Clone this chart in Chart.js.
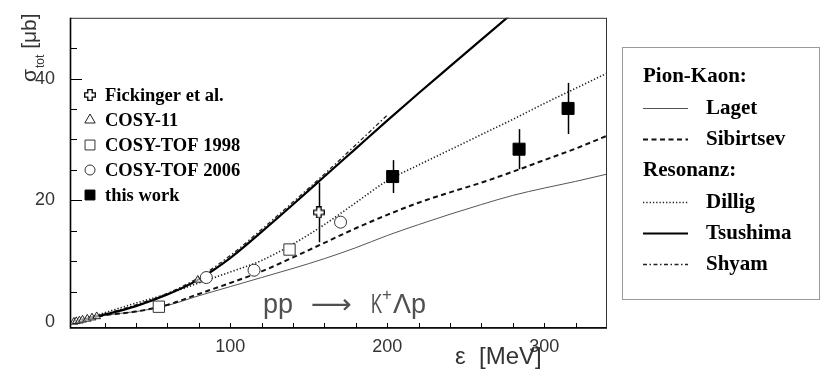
<!DOCTYPE html>
<html>
<head>
<meta charset="utf-8">
<script src="https://cdn.jsdelivr.net/npm/chart.js@4.4.1/dist/chart.umd.min.js"></script>
<style>
  html, body { margin: 0; padding: 0; background: #fff; }
  #wrap { width: 830px; height: 387px; }
</style>
</head>
<body>
<div id="wrap"><canvas id="chart" width="830" height="387"></canvas></div>
<script>
// theory curves: epsilon [MeV] -> sigma_tot [mub]
const curveX     = [0, 10, 20, 40, 60, 80, 100, 120, 140, 160, 180, 200, 220, 240, 260, 280, 300, 320, 340];
const lagetY     = [0, 0.6, 1.1, 1.7, 2.7, 4.3, 5.8, 7.3, 8.8, 10.4, 12.2, 14.2, 16.0, 17.7, 19.3, 20.8, 22.0, 23.1, 24.3];
const sibirtsevY = [0, 0.6, 1.1, 1.7, 2.8, 4.6, 6.4, 8.3, 10.6, 13.0, 15.4, 17.6, 19.6, 21.3, 22.9, 24.7, 26.6, 28.5, 30.6];
const dilligY    = [0, 0.7, 1.5, 3.1, 4.6, 6.4, 8.2, 10.1, 12.8, 16.0, 19.6, 23.2, 25.8, 28.3, 30.8, 33.3, 35.9, 38.4, 40.9];
const tsushimaX  = [0, 20, 40, 60, 80, 100, 120, 140, 160, 180, 200, 220, 240, 260, 280];
const tsushimaY  = [0, 1.2, 2.6, 4.5, 7.0, 10.5, 14.8, 19.3, 23.9, 28.5, 33.1, 37.6, 42.0, 46.4, 50.8];
const shyamX     = [0, 20, 40, 60, 80, 100, 120, 140, 160, 180, 200];
const shyamY     = [0, 1.3, 2.8, 4.7, 7.3, 10.9, 15.2, 19.7, 24.3, 29.1, 34.0];

// measurements
const fickX = [156.5], fickY = [18.0], fickErr = [4.9];
const cosy11X = [0.5, 2, 4, 6, 9, 12, 15, 79.4];
const cosy11Y = [0.0, 0.1, 0.2, 0.35, 0.5, 0.7, 0.9, 6.9];
const tof98X = [54.6, 137.8], tof98Y = [2.5, 11.9];
const tof06X = [84.8, 115.2, 170.3], tof06Y = [7.3, 8.5, 16.4];
const workX = [203.5, 284.0, 315.2], workY = [23.9, 28.4, 35.1], workErr = [2.7, 3.3, 4.2];

const xTickLabels = [100, 200, 300];
const yTickLabels = [0, 20, 40];

const pts = (xs, ys) => xs.map((v, i) => ({ x: v, y: ys[i] }));

function openCross(size) {
  const c = document.createElement('canvas');
  c.width = size; c.height = size;
  const g = c.getContext('2d');
  const m = size / 2, w = 2.2, e = 0.7;
  g.beginPath();
  g.moveTo(m - w, e); g.lineTo(m + w, e); g.lineTo(m + w, m - w);
  g.lineTo(size - e, m - w); g.lineTo(size - e, m + w); g.lineTo(m + w, m + w);
  g.lineTo(m + w, size - e); g.lineTo(m - w, size - e); g.lineTo(m - w, m + w);
  g.lineTo(e, m + w); g.lineTo(e, m - w); g.lineTo(m - w, m - w);
  g.closePath();
  g.fillStyle = '#fff'; g.fill();
  g.strokeStyle = '#000'; g.lineWidth = 1.3; g.stroke();
  return c;
}
const crossImg = openCross(12);

const markerSets = [
  { label: 'this work', data: pts(workX, workY), err: workErr, pointStyle: 'rect', pointRadius: 8.5, backgroundColor: '#000', borderColor: '#000', borderWidth: 1 },
  { label: 'Fickinger et al.', data: pts(fickX, fickY), err: fickErr, pointStyle: crossImg, pointRadius: 6, backgroundColor: '#fff', borderColor: '#000', borderWidth: 1 },
  { label: 'COSY-TOF 2006', data: pts(tof06X, tof06Y), pointStyle: 'circle', pointRadius: 6, backgroundColor: '#fff', borderColor: '#333', borderWidth: 1 },
  { label: 'COSY-TOF 1998', data: pts(tof98X, tof98Y), pointStyle: 'rect', pointRadius: 8, backgroundColor: '#fff', borderColor: '#333', borderWidth: 1 },
  { label: 'COSY-11', data: pts(cosy11X, cosy11Y), pointStyle: 'triangle', pointRadius: 4.5, backgroundColor: 'rgba(255,255,255,0.6)', borderColor: '#222', borderWidth: 1 }
].map(d => Object.assign({ type: 'scatter', showLine: false, pointHoverRadius: 0 }, d));

const curveSets = [
  { label: 'Tsushima', data: pts(tsushimaX, tsushimaY), borderColor: '#000', borderWidth: 2.2, borderDash: [] },
  { label: 'Shyam', data: pts(shyamX, shyamY), borderColor: '#222', borderWidth: 1.3, borderDash: [4, 2.5, 1.5, 2.5] },
  { label: 'Dillig', data: pts(curveX, dilligY), borderColor: '#222', borderWidth: 1.6, borderDash: [1.3, 2] },
  { label: 'Sibirtsev', data: pts(curveX, sibirtsevY), borderColor: '#111', borderWidth: 2, borderDash: [5, 3.5] },
  { label: 'Laget', data: pts(curveX, lagetY), borderColor: '#555', borderWidth: 1, borderDash: [] }
].map(d => Object.assign({ type: 'line', pointRadius: 0, fill: false, cubicInterpolationMode: 'monotone' }, d));

const errorBars = {
  id: 'errorBars',
  beforeDatasetsDraw(chart) {
    const { ctx, scales: { x, y } } = chart;
    ctx.save();
    ctx.strokeStyle = '#000';
    ctx.lineWidth = 1.5;
    chart.data.datasets.forEach(ds => {
      if (!ds.err) return;
      ds.data.forEach((p, i) => {
        const px = Math.round(x.getPixelForValue(p.x)) + 0.5;
        ctx.beginPath();
        ctx.moveTo(px, y.getPixelForValue(p.y + ds.err[i]));
        ctx.lineTo(px, y.getPixelForValue(p.y - ds.err[i]));
        ctx.stroke();
      });
    });
    ctx.restore();
  }
};

function setStyle(ctx, ds) {
  ctx.strokeStyle = ds.borderColor;
  ctx.lineWidth = ds.borderWidth;
  ctx.setLineDash(ds.borderDash || []);
}

const decorations = {
  id: 'decorations',
  afterDraw(chart) {
    const { ctx, chartArea: a, scales: { x, y } } = chart;
    const ds = chart.data.datasets;
    const find = l => ds.find(d => d.label === l);
    ctx.save();

    // frame
    ctx.strokeStyle = '#333';
    ctx.lineWidth = 1;
    ctx.strokeRect(a.left + 0.5, a.top + 0.5, a.right - a.left - 1, a.bottom - a.top - 1);
    ctx.strokeStyle = '#000';
    ctx.lineWidth = 1.6;
    ctx.beginPath();
    ctx.moveTo(a.left + 0.5, a.top);
    ctx.lineTo(a.left + 0.5, a.bottom);
    ctx.lineTo(a.right, a.bottom);
    ctx.stroke();

    // inward ticks
    ctx.lineWidth = 1;
    ctx.beginPath();
    for (let v = 20; v < 340; v += 20) {
      const px = Math.round(x.getPixelForValue(v)) + 0.5;
      ctx.moveTo(px, a.bottom);
      ctx.lineTo(px, a.bottom - 5);
    }
    for (let v = 5; v < 50; v += 5) {
      const py = Math.round(y.getPixelForValue(v)) + 0.5;
      ctx.moveTo(a.left, py);
      ctx.lineTo(a.left + (v % 20 === 0 ? 12 : 7), py);
    }
    ctx.stroke();

    // axis titles
    ctx.fillStyle = '#333';
    ctx.textBaseline = 'alphabetic';
    ctx.textAlign = 'left';
    ctx.font = '24px "Liberation Sans"';
    ctx.fillText('\u03B5  [MeV]', 455, 364);

    ctx.save();
    ctx.translate(36, 82);
    ctx.rotate(-Math.PI / 2);
    ctx.font = '21px "Liberation Sans"';
    ctx.fillText('\u03C3', 0, 0);
    let w = ctx.measureText('\u03C3').width;
    ctx.font = '12px "Liberation Sans"';
    ctx.fillText('tot', w + 1, 8);
    w += 1 + ctx.measureText('tot').width;
    ctx.font = '21px "Liberation Sans"';
    ctx.fillText(' [\u03BCb]', w, 0);
    ctx.restore();

    // reaction label
    ctx.fillStyle = '#505050';
    ctx.font = '27px "Liberation Sans"';
    ctx.fillText('pp', 263, 313);
    ctx.save();
    ctx.font = '27px "DejaVu Sans"';
    const aw = ctx.measureText('\u27F6').width;
    ctx.translate(311, 313);
    ctx.scale(41 / aw, 1);
    ctx.fillText('\u27F6', 0, 0);
    ctx.restore();
    ctx.save();
    ctx.font = '27px "Liberation Sans"';
    ctx.translate(371, 313);
    ctx.scale(0.62, 1);
    ctx.fillText('K', 0, 0);
    ctx.restore();
    ctx.font = '17px "Liberation Sans"';
    ctx.fillText('+', 382, 300);
    ctx.font = '27px "Liberation Sans"';
    ctx.fillText('\u039Bp', 393, 313);

    // inner legend (measurements)
    const inner = ['Fickinger et al.', 'COSY-11', 'COSY-TOF 1998', 'COSY-TOF 2006', 'this work'];
    ctx.font = 'bold 18.5px "Liberation Serif"';
    ctx.textBaseline = 'middle';
    inner.forEach((l, i) => {
      const d = find(l);
      const yy = 95 + i * 25;
      ctx.fillStyle = d.backgroundColor;
      ctx.strokeStyle = d.borderColor;
      ctx.lineWidth = 1;
      ctx.setLineDash([]);
      const r = d.pointStyle === 'rect' ? 7 : d.pointStyle === 'triangle' ? 6 : 5;
      Chart.helpers.drawPoint(ctx, { pointStyle: d.pointStyle, radius: r, rotation: 0, borderWidth: 1 }, 90, yy);
      ctx.fillStyle = '#000';
      ctx.fillText(l, 105, yy + 1);
    });

    // right legend (theory)
    ctx.setLineDash([]);
    ctx.strokeStyle = '#9a9a9a';
    ctx.lineWidth = 1;
    ctx.strokeRect(622.5, 47.5, 197, 252);
    ctx.fillStyle = '#000';
    ctx.font = 'bold 21px "Liberation Serif"';
    ctx.fillText('Pion-Kaon:', 643, 77);
    ctx.fillText('Resonanz:', 643, 171);
    const rows = [['Laget', 108], ['Sibirtsev', 139], ['Dillig', 202], ['Tsushima', 233], ['Shyam', 264]];
    rows.forEach(([l, yy]) => {
      const d = find(l);
      setStyle(ctx, d);
      ctx.beginPath();
      ctx.moveTo(643, yy + 0.5);
      ctx.lineTo(688, yy + 0.5);
      ctx.stroke();
      ctx.setLineDash([]);
      ctx.fillText(l, 706, yy + 1);
    });
    ctx.restore();
  }
};

new Chart(document.getElementById('chart').getContext('2d'), {
  data: { datasets: markerSets.concat(curveSets) },
  options: {
    responsive: false,
    animation: false,
    devicePixelRatio: 1,
    layout: { padding: { left: 0, right: 223, top: 17, bottom: 0 } },
    plugins: { legend: { display: false }, tooltip: { enabled: false } },
    scales: {
      x: {
        type: 'linear', min: -2, max: 340,
        grid: { display: false }, border: { display: false },
        ticks: { color: '#333', padding: 0, maxRotation: 0, font: { family: 'Liberation Sans', size: 18 } },
        afterBuildTicks: s => { s.ticks = xTickLabels.map(v => ({ value: v })); },
        afterFit: s => { s.height = 59; }
      },
      y: {
        type: 'linear', min: -1, max: 50,
        grid: { display: false }, border: { display: false },
        ticks: { color: '#333', padding: 7, font: { family: 'Liberation Sans', size: 18 } },
        afterBuildTicks: s => { s.ticks = yTickLabels.map(v => ({ value: v })); },
        afterFit: s => { s.width = 70; }
      }
    }
  },
  plugins: [errorBars, decorations]
});
</script>
</body>
</html>
